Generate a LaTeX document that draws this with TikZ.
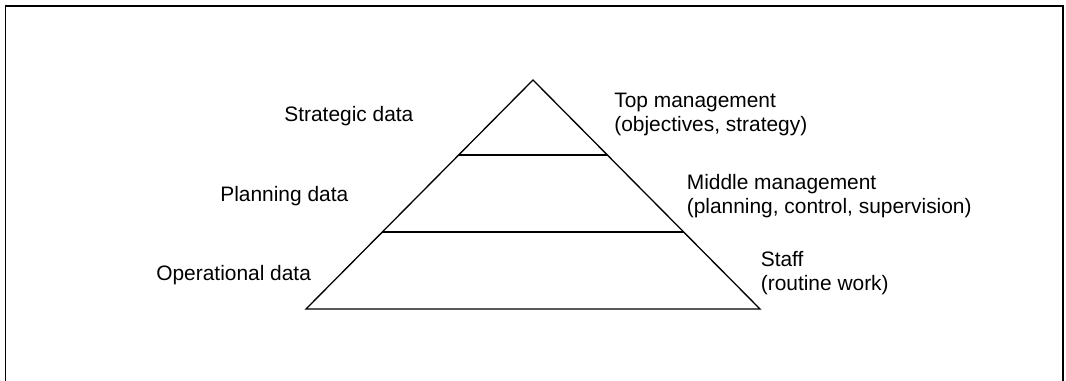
\documentclass[tikz,border=0pt]{standalone}
\usepackage{fontspec}
\setmainfont{Liberation Sans}
\usetikzlibrary{calc}
\tikzset{
  lbl/.style={anchor=base west, align=left, inner sep=0pt,
    font=\fontsize{11.9}{13.6}\selectfont},
  layer/.style={line width=0.75pt}
}
\begin{document}
\begin{tikzpicture}
      \useasboundingbox (0,0) rectangle (21.32,7.62);
      % open frame
      \draw[line width=1.1pt] (0.11,-0.2) -- (0.11,7.5) -- (21.26,7.5) -- (21.26,-0.2);

      \coordinate (apex) at (10.66,6.02);
      \coordinate (bl) at (6.12,1.44);
      \coordinate (br) at (15.2,1.44);
      \draw[layer] (apex) -- (bl) -- (br) -- cycle;

      \coordinate (ul) at ($(apex)!0.3275!(bl)$);
      \coordinate (ur) at ($(apex)!0.3275!(br)$);
      \coordinate (ll) at ($(apex)!0.664!(bl)$);
      \coordinate (lr) at ($(apex)!0.664!(br)$);
      \draw[layer] (ul) -- (ur);
      \draw[layer] (ll) -- (lr);

	\node[lbl] (strat) at (5.68,5.18) {Strategic data};
	\node[lbl] (plan) at (4.4,3.58) {Planning data};
	\node[lbl] (oper) at (3.12,2.0) {Operational data};

	\node[lbl, anchor=north west] (top) at (12.28,5.46+0.3) {Top management\\(objectives, strategy)};
	\node[lbl, anchor=north west] (mid) at (13.73,3.84+0.3) {Middle management\\(planning, control, supervision)};
	\node[lbl, anchor=north west] (staff) at (15.21,2.29+0.3) {Staff\\(routine work)};
\end{tikzpicture}
\end{document}
